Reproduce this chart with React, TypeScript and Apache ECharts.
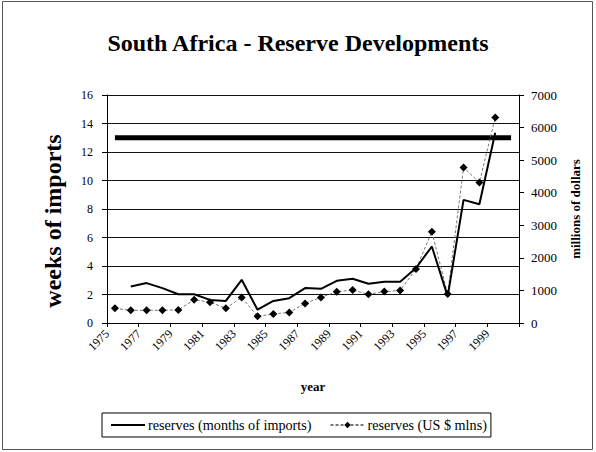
import React, { useEffect, useRef } from "react";
import * as echarts from "echarts";

const years = [
  "1975", "1976", "1977", "1978", "1979", "1980", "1981", "1982", "1983", "1984",
  "1985", "1986", "1987", "1988", "1989", "1990", "1991", "1992", "1993", "1994",
  "1995", "1996", "1997", "1998", "1999", "2000",
];

// reserves in weeks of imports (left axis)
const importsCover = [
  null, 2.56, 2.8, 2.45, 2.02, 2.02, 1.62, 1.55, 3.03, 0.93,
  1.55, 1.74, 2.45, 2.4, 2.96, 3.1, 2.75, 2.9, 2.9, 3.86,
  5.37, 1.87, 8.64, 8.33, 13.35, null,
];

// reserves in US$ millions (right axis)
const usdMillions = [
  450, 390, 390, 390, 400, 715, 640, 455, 785, 205,
  276, 325, 600, 785, 960, 1012, 880, 965, 1000, 1656,
  2800, 890, 4773, 4313, 6307, null,
];

// benchmark level (weeks of imports)
const benchmark = [
  13, 13, 13, 13, 13, 13, 13, 13, 13, 13,
  13, 13, 13, 13, 13, 13, 13, 13, 13, 13,
  13, 13, 13, 13, 13, 13,
];

const leftTicks = { min: 0, max: 16, interval: 2 };
const rightTicks = { min: 0, max: 7000, interval: 1000 };

const FONT = "Liberation Serif";

export default function App() {
  const ref = useRef<HTMLDivElement>(null);

  useEffect(() => {
    if (!ref.current) return;
    const chart = echarts.init(ref.current, undefined, { renderer: "svg" });
    chart.setOption({
      animation: false,
      backgroundColor: "#ffffff",
      textStyle: { fontFamily: FONT, color: "#000" },
      title: {
        text: "South Africa - Reserve Developments",
        left: "center",
        top: 31,
        padding: 0,
        textStyle: { fontFamily: FONT, fontSize: 24, fontWeight: "bold", color: "#000" },
      },
      graphic: [
        {
          type: "rect",
          shape: { x: 2.5, y: 1.5, width: 590, height: 448 },
          style: { fill: "none", stroke: "#555", lineWidth: 1 },
          silent: true,
        },
      ],
      legend: {
        data: [
          { name: "reserves (months of imports)", itemStyle: { opacity: 0 } },
          { name: "reserves (US $ mlns)" },
        ],
        left: 102,
        top: 413,
        orient: "horizontal",
        borderColor: "#000",
        borderWidth: 1,
        borderRadius: 0,
        padding: [5, 4, 5, 8],
        itemWidth: 34,
        itemHeight: 8,
        itemGap: 18,
        textStyle: { fontFamily: FONT, fontSize: 14.2, color: "#000", padding: [0, 0, 0, -2] },
      },
      grid: { left: 107, right: 77, top: 95, bottom: 129 },
      xAxis: {
        type: "category",
        data: years,
        boundaryGap: true,
        name: "year",
        nameLocation: "middle",
        nameGap: 57,
        nameMoveOverlap: false,
        nameTextStyle: { fontFamily: FONT, fontSize: 13, fontWeight: "bold", color: "#000" },
        axisLine: { lineStyle: { color: "#000", width: 1 } },
        axisTick: { show: true, length: 4, lineStyle: { color: "#000" } },
        axisLabel: {
          interval: 1,
          rotate: 45,
          fontFamily: FONT,
          fontSize: 12,
          color: "#000",
          margin: 1,
          padding: [0, 11, 0, 0],
        },
        splitLine: { show: false },
      },
      yAxis: [
        {
          type: "value",
          position: "left",
          ...leftTicks,
          name: "weeks of imports",
          nameLocation: "middle",
          nameRotate: 90,
          nameGap: 42,
          nameMoveOverlap: false,
          nameTextStyle: {
            fontFamily: FONT,
            fontSize: 24,
            fontWeight: "bold",
            color: "#000",
            padding: [0, 24, 0, 0],
          },
          axisLine: { show: true, lineStyle: { color: "#000", width: 1 } },
          axisTick: { show: true, length: 5, lineStyle: { color: "#000" } },
          axisLabel: {
            fontFamily: FONT,
            fontSize: 12,
            color: "#000",
            margin: 14,
            formatter: (v: number) => String(v),
          },
          splitLine: { show: true, lineStyle: { color: "#111", width: 1 } },
        },
        {
          type: "value",
          position: "right",
          ...rightTicks,
          name: "millions of dollars",
          nameLocation: "middle",
          nameRotate: 90,
          nameGap: 50,
          nameMoveOverlap: false,
          nameTextStyle: { fontFamily: FONT, fontSize: 13, fontWeight: "bold", color: "#000" },
          axisLine: { show: true, lineStyle: { color: "#000", width: 1 } },
          axisTick: { show: true, length: 5, lineStyle: { color: "#000" } },
          axisLabel: {
            fontFamily: FONT,
            fontSize: 13,
            color: "#000",
            margin: 12,
            formatter: (v: number) => String(v),
          },
          splitLine: { show: false },
        },
      ],
      series: [
        {
          name: "benchmark",
          type: "line",
          yAxisIndex: 0,
          data: benchmark,
          symbol: "none",
          lineStyle: { color: "#000", width: 5 },
          silent: true,
          z: 1,
        },
        {
          name: "reserves (months of imports)",
          type: "line",
          yAxisIndex: 0,
          data: importsCover,
          symbol: "none",
          connectNulls: false,
          itemStyle: { color: "#000" },
          lineStyle: { color: "#000", width: 2 },
          z: 3,
        },
        {
          name: "reserves (US $ mlns)",
          type: "line",
          yAxisIndex: 1,
          data: usdMillions,
          symbol: "diamond",
          symbolSize: 8,
          showAllSymbol: true,
          connectNulls: false,
          itemStyle: { color: "#000", borderColor: "#000", borderWidth: 0 },
          lineStyle: { color: "#777", width: 1, type: [3, 2] },
          z: 2,
        },
      ],
    });
    return () => chart.dispose();
  }, []);

  return (
    <div
      ref={ref}
      style={{ position: "fixed", left: 0, top: 0, width: 596, height: 452, background: "#fff" }}
    />
  );
}
